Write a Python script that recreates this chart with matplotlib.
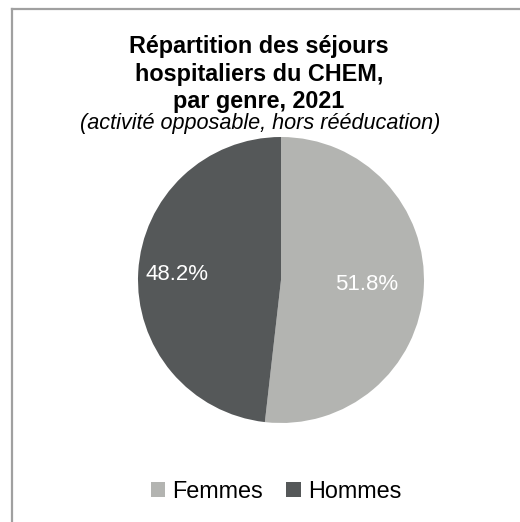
import matplotlib
matplotlib.use("Agg")
import matplotlib.pyplot as plt
import numpy as np
from matplotlib.patches import Patch
from matplotlib.lines import Line2D

categories = ["Femmes", "Hommes"]
values = [51.8, 48.2]
colors = ["#b3b4b1", "#555859"]
title = "Répartition des séjours\nhospitaliers du CHEM,\npar genre, 2021"
subtitle = "(activité opposable, hors rééducation)"

plt.rcParams['font.family'] = ['Liberation Sans', 'DejaVu Sans']
W, H = 520, 522
fig = plt.figure(figsize=(W/100, H/100), dpi=100)

# frame (top and left lines)
fig.add_artist(Line2D([11.5/W, 11.5/W], [0, 1 - 8.5/H], color="#a0a0a0", lw=1.6, transform=fig.transFigure))
fig.add_artist(Line2D([11.5/W, 1], [1 - 8.5/H, 1 - 8.5/H], color="#a0a0a0", lw=1.6, transform=fig.transFigure))

cx, cy, r = 281, 280, 143
ax = fig.add_axes([(cx - r)/W, 1 - (cy + r)/H, 2*r/W, 2*r/H])
wedges, texts, autotexts = ax.pie(values, colors=colors, startangle=90, counterclock=False,
                                  autopct="%.1f%%", pctdistance=0.62,
                                  textprops=dict(color="white", fontsize=16),
                                  wedgeprops=dict(linewidth=0))
label_dist = [0.60, 0.73]
for w, t, d in zip(wedges, autotexts, label_dist):
    ang = np.deg2rad((w.theta1 + w.theta2) / 2)
    t.set_position((d * np.cos(ang), d * np.sin(ang)))
ax.set_aspect("equal")
ax.set_xlim(-1, 1); ax.set_ylim(-1, 1)

fig.text(259/W, 1 - 74/H, title, ha="center", va="center", fontsize=16.8, fontweight="bold",
         linespacing=1.25)
fig.text(260/W, 1 - 124/H, subtitle, ha="center", va="center", fontsize=15.6, style="italic")

handles = [Patch(facecolor=c, edgecolor="none") for c in colors]
fig.legend(handles, categories, loc="center", bbox_to_anchor=(276/W, 1 - 491/H), ncol=2,
           frameon=False, fontsize=16.8, handlelength=0.62, handleheight=0.62, handletextpad=0.3,
           columnspacing=1.0)

fig.savefig("out.png", dpi=100, facecolor="white")
